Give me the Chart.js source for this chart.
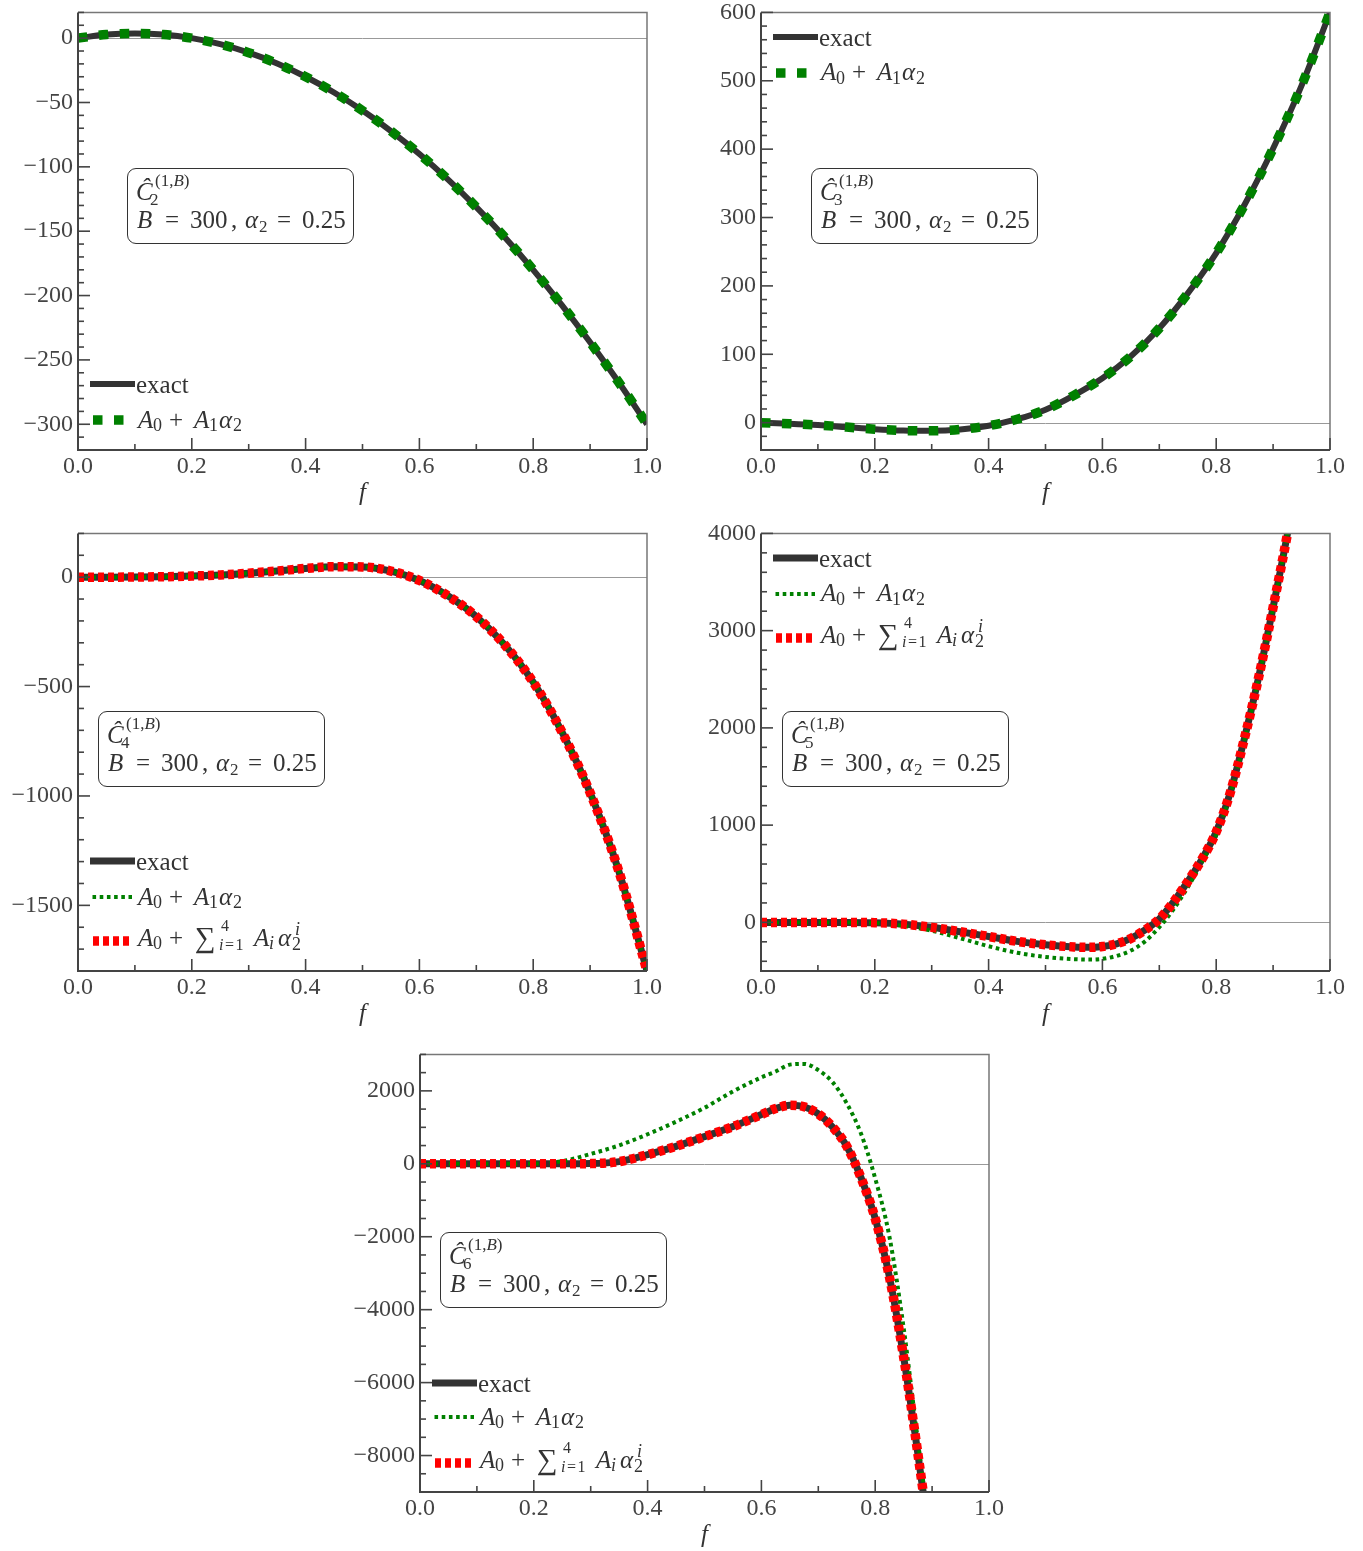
<!DOCTYPE html>
<html><head><meta charset="utf-8">
<script src="https://cdn.jsdelivr.net/npm/chart.js@4.4.1/dist/chart.umd.min.js"></script>
<style>
html,body{margin:0;padding:0;background:#fff;}
#page{position:relative;width:1363px;height:1551px;overflow:hidden;background:#fff;}
canvas{position:absolute;}
.pc{position:absolute;font-family:'Liberation Serif','DejaVu Serif',serif;color:#333;white-space:nowrap;}
.box{position:absolute;border:1.4px solid #333;border-radius:9px;background:#fff;box-sizing:border-box;}
svg{position:absolute;overflow:visible;}
</style></head>
<body><div id="page"></div>
<script>
// ---------- data ----------
const xTicks = [0, 0.2, 0.4, 0.6, 0.8, 1.0];

const fC2 = [0,0.05,0.1,0.15,0.2,0.25,0.3,0.35,0.4,0.45,0.5,0.55,0.6,0.65,0.7,0.75,0.8,0.85,0.9,0.95,1.0];
const c2Exact = [0,2.8,3.7,2.8,0,-4.7,-11.3,-19.7,-30,-42.2,-56.3,-72.2,-90,-109.7,-131.3,-154.7,-180,-207.2,-236.3,-267.2,-300];
const c2A1    = [0,2.8,3.7,2.8,0,-4.7,-11.3,-19.7,-30,-42.2,-56.3,-72.2,-90,-109.7,-131.3,-154.7,-180,-207.2,-236.3,-267.2,-300];
const c2YTicks = [-300,-250,-200,-150,-100,-50,0];

const fC3 = [0,0.05,0.1,0.15,0.2,0.25,0.3,0.35,0.4,0.45,0.5,0.55,0.6,0.65,0.7,0.75,0.8,0.85,0.9,0.95,1.0];
const c3Exact = [0,-1.5,-3.5,-6.5,-9.5,-11.5,-12,-10,-4.5,5,19,40,65,97,138,189,248,319,401,493,600];
const c3A1    = [0,-1.5,-3.5,-6.5,-9.5,-11.5,-12,-10,-4.5,5,19,40,65,97,138,189,248,319,401,493,600];
const c3YTicks = [0,100,200,300,400,500,600];

const fC4 = [0,0.05,0.1,0.15,0.2,0.25,0.3,0.35,0.4,0.45,0.5,0.55,0.6,0.65,0.7,0.75,0.8,0.85,0.9,0.95,1.0];
const c4Exact = [0,0,0.5,2,5,10,18,28,40,48,47,28,-15,-85,-180,-310,-480,-705,-985,-1340,-1800];
const c4A1    = [0,0,0.5,2,5,10,18,28,40,48,47,28,-15,-85,-180,-310,-480,-705,-985,-1340,-1800];
const c4A4    = [0,0,0.5,2,5,10,18,28,40,48,47,28,-15,-85,-180,-310,-480,-705,-985,-1340,-1800];
const c4YTicks = [-1500,-1000,-500,0];

const fC5 = [0,0.05,0.1,0.15,0.2,0.25,0.3,0.35,0.4,0.45,0.5,0.55,0.575,0.6,0.625,0.65,0.675,0.7,0.725,0.75,0.775,0.8,0.825,0.85,0.875,0.9,0.925,0.95];
const c5Exact = [0,0,0,0,-3,-18,-51,-96,-145,-195,-230,-252,-257,-248,-220,-165,-78,35,210,420,650,930,1340,1900,2530,3240,3990,4850];
const c5A1    = [0,0,0,-1,-5,-36,-86,-163,-245,-312,-356,-378,-382,-375,-345,-290,-195,-50,135,360,620,900,1320,1880,2520,3230,3990,4850];
const c5A4    = [0,0,0,0,-3,-18,-51,-96,-145,-195,-230,-252,-257,-248,-220,-165,-78,35,210,420,650,930,1340,1900,2530,3240,3990,4850];
const c5YTicks = [0,1000,2000,3000,4000];

const fC6 = [0,0.05,0.1,0.15,0.2,0.25,0.3,0.35,0.4,0.45,0.5,0.55,0.6,0.625,0.65,0.675,0.7,0.725,0.75,0.775,0.8,0.825,0.85,0.875,0.9];
const c6Exact = [0,0,0,0,0,0,5,60,250,480,745,1020,1350,1515,1605,1565,1370,1010,480,-380,-1500,-3100,-5300,-7950,-10800];
const c6A1    = [0,0,0,0,2,70,270,505,810,1155,1535,1985,2370,2530,2720,2740,2570,2240,1660,830,-400,-2000,-4500,-7600,-10600];
const c6A4    = [0,0,0,0,0,0,5,60,250,480,745,1020,1350,1515,1605,1565,1370,1010,480,-380,-1500,-3100,-5300,-7950,-10800];
const c6YTicks = [-8000,-6000,-4000,-2000,0,2000];

// ---------- styles ----------
const FONT = "'Liberation Serif','DejaVu Serif',serif";
const S = {
  exact6: {color:'#333333', width:6, dash:[]},
  exact7: {color:'#333333', width:7, dash:[]},
  greenSq: {color:'#008000', width:9.5, dash:[9.5,11.5]},
  greenDot: {color:'#008000', width:4, dash:[3.6,3.6]},
  red: {color:'#ff0000', width:9.5, dash:[6,4]}
};

const page = document.getElementById('page');
const PW = 569, PH = 438;

function piece(parent, html, x, baseline, fs, it, ls) {
  const s = document.createElement('span');
  s.className = 'pc';
  s.innerHTML = html;
  s.style.left = x + 'px';
  s.style.top = (baseline - 0.8375 * fs) + 'px';
  s.style.fontSize = fs + 'px';
  s.style.lineHeight = fs + 'px';
  if (it) s.style.fontStyle = 'italic';
  if (ls) s.style.letterSpacing = ls + 'px';
  parent.appendChild(s);
}

const decoPlugin = {
  id: 'deco',
  beforeDatasetsDraw(chart) {
    const {ctx, chartArea: a, scales: {y}} = chart;
    const y0 = Math.round(y.getPixelForValue(0)) + 0.5;
    ctx.save();
    ctx.strokeStyle = '#999'; ctx.lineWidth = 1;
    ctx.beginPath(); ctx.moveTo(a.left, y0); ctx.lineTo(a.right, y0); ctx.stroke();
    ctx.restore();
  },
  afterDatasetsDraw(chart) {
    const {ctx, chartArea: a, scales: {x, y}} = chart;
    const p = chart.options.plugins.deco;
    ctx.save();
    ctx.strokeStyle = '#777'; ctx.lineWidth = 1.5;
    ctx.beginPath(); ctx.moveTo(a.left, a.top); ctx.lineTo(a.right, a.top); ctx.lineTo(a.right, a.bottom); ctx.stroke();
    ctx.strokeStyle = '#444'; ctx.lineWidth = 2;
    ctx.beginPath(); ctx.moveTo(a.left, a.top); ctx.lineTo(a.left, a.bottom); ctx.lineTo(a.right, a.bottom); ctx.stroke();
    ctx.lineWidth = 1.6;
    for (let v = 0; v <= 1.0001; v += 0.1) {
      const px = x.getPixelForValue(v);
      const major = Math.abs(v * 5 - Math.round(v * 5)) < 1e-6;
      ctx.beginPath(); ctx.moveTo(px, a.bottom); ctx.lineTo(px, a.bottom - (major ? 12 : 6)); ctx.stroke();
    }
    const step = p.minor;
    for (let v = Math.ceil(y.min / step) * step; v <= y.max + 1e-9; v += step) {
      const py = y.getPixelForValue(v);
      const major = p.yTicks.some(t => Math.abs(t - v) < 1e-6);
      ctx.beginPath(); ctx.moveTo(a.left, py); ctx.lineTo(a.left + (major ? 12 : 6), py); ctx.stroke();
    }
    ctx.fillStyle = '#333';
    ctx.font = 'italic 25px ' + FONT;
    ctx.textAlign = 'center'; ctx.textBaseline = 'middle';
    ctx.fillText('f', (a.left + a.right) / 2, a.bottom + 43);
    ctx.restore();
  }
};

function fmtY(v) { return v < 0 ? '\u2212' + (-v) : String(v); }

function buildChart(cv, p, W, H) {
  cv.width = W; cv.height = H;
  cv.style.width = W + 'px'; cv.style.height = H + 'px';
  const n = p.series.length;
  const datasets = p.series.map((s, i) => ({
    data: p.f.map((f, k) => ({x: f, y: s.values[k]})),
    borderColor: s.style.color, borderWidth: s.style.width, borderDash: s.style.dash,
    borderCapStyle: 'butt', borderJoinStyle: 'round',
    pointRadius: 0, fill: false, cubicInterpolationMode: 'monotone', clip: 0,
    order: n - i
  }));
  return new Chart(cv, {
    type: 'line',
    data: {datasets},
    plugins: [decoPlugin],
    options: {
      responsive: false, maintainAspectRatio: false, animation: false, devicePixelRatio: 1,
      layout: {padding: {top: 16, right: 24, bottom: 0, left: 0}},
      plugins: {legend: {display: false}, tooltip: {enabled: false}, deco: {minor: p.minor, yTicks: p.yTicks}},
      scales: {
        x: {type: 'linear', min: 0, max: 1,
            afterBuildTicks: s => { s.ticks = xTicks.map(v => ({value: v})); },
            afterFit: s => { s.height = 66; },
            grid: {display: false, drawTicks: false}, border: {display: false},
            ticks: {padding: 2, autoSkip: false, maxRotation: 0, color: '#444',
                    font: {family: FONT, size: 24}, callback: v => v.toFixed(1)}},
        y: {type: 'linear', min: p.yMin, max: p.yMax,
            afterBuildTicks: s => { s.ticks = p.yTicks.map(v => ({value: v})); },
            afterFit: s => { s.width = 78; },
            grid: {display: false, drawTicks: false}, border: {display: false},
            ticks: {padding: 5, autoSkip: false, color: '#444',
                    font: {family: FONT, size: 24}, callback: v => fmtY(v)}}
      }
    }
  });
}

function makePanel(p) {
  let W = 78 + PW + 24, H = 16 + PH + 66;
  const cv = document.createElement('canvas');
  page.appendChild(cv);
  let ch = buildChart(cv, p, W, H);
  let ca = ch.chartArea;
  const dW = PW - Math.round(ca.right - ca.left), dH = PH - Math.round(ca.bottom - ca.top);
  if (dW !== 0 || dH !== 0) {
    ch.destroy();
    W += dW; H += dH;
    ch = buildChart(cv, p, W, H);
    ca = ch.chartArea;
  }
  cv.style.left = (p.left - Math.round(ca.left)) + 'px';
  cv.style.top = (p.top - Math.round(ca.top)) + 'px';

  // annotation box
  const bx = p.left + p.box[0], by = p.top + p.box[1];
  const box = document.createElement('div');
  box.className = 'box';
  box.style.left = bx + 'px'; box.style.top = by + 'px';
  box.style.width = '227px'; box.style.height = '76px';
  page.appendChild(box);
  piece(page, 'Ĉ', bx + 9, by + 32, 25, true);
  piece(page, '(1,<i>B</i>)', bx + 28, by + 18, 17, false);
  piece(page, p.sub, bx + 23, by + 37, 17, false);
  piece(page, 'B', bx + 10, by + 60, 25, true);
  piece(page, '=', bx + 38, by + 60, 25, false);
  piece(page, '300', bx + 63, by + 60, 25, false);
  piece(page, ',', bx + 104, by + 60, 25, false);
  piece(page, 'α', bx + 118, by + 60, 25, true);
  piece(page, '2', bx + 132, by + 64, 17, false);
  piece(page, '=', bx + 150, by + 60, 25, false);
  piece(page, '0.25', bx + 175, by + 60, 25, false);
  // legend
  p.legend.forEach(r => {
    const st = S[r.style];
    const svg = document.createElementNS('http://www.w3.org/2000/svg', 'svg');
    svg.setAttribute('width', '50'); svg.setAttribute('height', '16');
    svg.style.left = (p.left + 12) + 'px'; svg.style.top = (r.y - 8) + 'px';
    const ln = document.createElementNS('http://www.w3.org/2000/svg', 'line');
    ln.setAttribute('x1', r.x0); ln.setAttribute('x2', r.x1);
    ln.setAttribute('y1', '8'); ln.setAttribute('y2', '8');
    ln.setAttribute('stroke', st.color); ln.setAttribute('stroke-width', st.width);
    if (st.dash.length) ln.setAttribute('stroke-dasharray', st.dash.join(' '));
    svg.appendChild(ln);
    page.appendChild(svg);
    const tx = p.left + 59;
    if (r.kind === 'exact') {
      piece(page, 'exact', tx - 1, r.y + 9, 25, false);
    } else if (r.kind === 'a1') {
      const b = r.y + 7.5, x0 = tx + 1;
      piece(page, 'A', x0, b, 25, true);
      piece(page, '0', x0 + 15, b + 4, 18, false);
      piece(page, '+', x0 + 31, b, 25, false);
      piece(page, 'A', x0 + 56, b, 25, true);
      piece(page, '1', x0 + 71, b + 4, 18, false);
      piece(page, 'α', x0 + 81, b, 25, true);
      piece(page, '2', x0 + 95, b + 4, 18, false);
    } else {
      const b = r.y + 5, x0 = tx + 1;
      piece(page, 'A', x0, b, 25, true);
      piece(page, '0', x0 + 15, b + 4, 18, false);
      piece(page, '+', x0 + 31, b, 25, false);
      piece(page, '∑', x0 + 57, b + 2, 29, false);
      piece(page, '4', x0 + 83, b - 14, 16, false);
      piece(page, '<i>i</i>=1', x0 + 81, b + 5, 16, false, 1.5);
      piece(page, 'A', x0 + 116, b, 25, true);
      piece(page, 'i', x0 + 131, b + 4, 18, true);
      piece(page, 'α', x0 + 140, b, 25, true);
      piece(page, 'i', x0 + 157, b - 10, 18, true);
      piece(page, '2', x0 + 154, b + 5, 18, false);
    }
  });
}

const A1row = (y, sq) => ({kind: 'a1', y, style: sq ? 'greenSq' : 'greenDot', x0: sq ? 3 : 2.5, x1: sq ? 45 : 42});
const EXrow = (y, st) => ({kind: 'exact', y, style: st, x0: 0, x1: 45});
const A4row = (y) => ({kind: 'a4', y, style: 'red', x0: 3, x1: 39});

makePanel({left: 78, top: 12, yMin: -320, yMax: 20, yTicks: c2YTicks, minor: 10, f: fC2,
  series: [{values: c2Exact, style: S.exact6}, {values: c2A1, style: S.greenSq}],
  box: [49, 156], sub: '2', legend: [EXrow(384, 'exact6'), A1row(420, true)]});
makePanel({left: 761, top: 12, yMin: -40, yMax: 600, yTicks: c3YTicks, minor: 20, f: fC3,
  series: [{values: c3Exact, style: S.exact6}, {values: c3A1, style: S.greenSq}],
  box: [50, 156], sub: '3', legend: [EXrow(36.5, 'exact6'), A1row(72.5, true)]});
makePanel({left: 78, top: 533, yMin: -1800, yMax: 200, yTicks: c4YTicks, minor: 100, f: fC4,
  series: [{values: c4Exact, style: S.exact7}, {values: c4A1, style: S.greenDot}, {values: c4A4, style: S.red}],
  box: [20, 178], sub: '4', legend: [EXrow(861, 'exact7'), A1row(897, false), A4row(940.5)]});
makePanel({left: 761, top: 533, yMin: -500, yMax: 4000, yTicks: c5YTicks, minor: 200, f: fC5,
  series: [{values: c5Exact, style: S.exact7}, {values: c5A1, style: S.greenDot}, {values: c5A4, style: S.red}],
  box: [21, 178], sub: '5', legend: [EXrow(557.5, 'exact7'), A1row(593.5, false), A4row(637.5)]});
makePanel({left: 420, top: 1054, yMin: -9000, yMax: 3000, yTicks: c6YTicks, minor: 500, f: fC6,
  series: [{values: c6Exact, style: S.exact7}, {values: c6A1, style: S.greenDot}, {values: c6A4, style: S.red}],
  box: [20, 178], sub: '6', legend: [EXrow(1382.5, 'exact7'), A1row(1417, false), A4row(1462.5)]});
</script>
</body></html>
